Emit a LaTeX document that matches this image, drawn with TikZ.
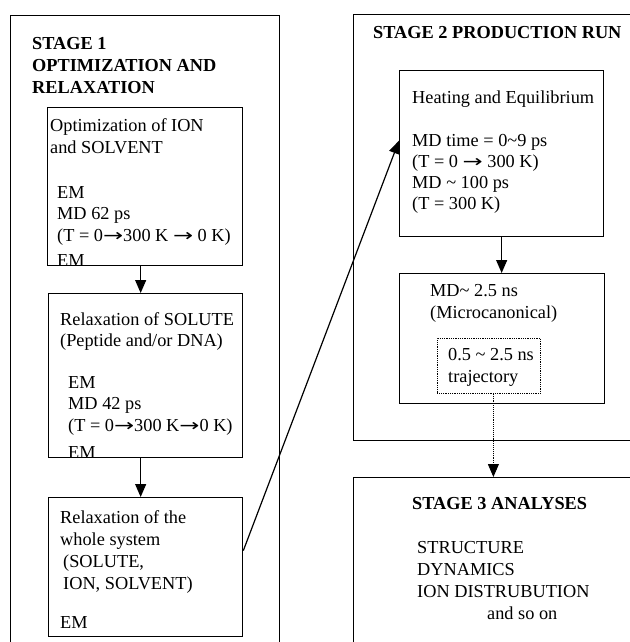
\documentclass[tikz,border=0pt]{standalone}
\usepackage{fontspec}
\usepackage{graphicx}
\setmainfont{Liberation Serif}
\newfontfamily\arrowfont{DejaVu Sans}
\newcommand\rarr{\scalebox{1.6}[1.15]{\arrowfont\fontsize{15}{22}\selectfont →}}
\usetikzlibrary{arrows.meta,calc}
\tikzset{
  box/.style={draw, line width=1.3pt, rectangle, inner sep=0pt, anchor=north west},
  dotbox/.style={draw, line width=0.8pt, densely dotted, rectangle, inner sep=0pt, anchor=north west},
  txt/.style={inner sep=0pt, anchor=base west, font=\fontsize{18.3}{22}\selectfont},
  ttl/.style={txt, font=\fontsize{18.3}{22}\selectfont\bfseries},
  arr/.style={line width=1.2pt, -{Triangle[width=11pt,length=13pt]}},
  dotarr/.style={line width=0.9pt, densely dotted, -{Triangle[width=11pt,length=13pt]}},
}
\begin{document}
\begin{tikzpicture}[x=1pt,y=-1pt]
\useasboundingbox (0,0) rectangle (629,642);
% stage frames
\node[box, minimum width=269pt, minimum height=660pt] (s1) at (10,15) {};
\node[box, minimum width=300pt, minimum height=426pt] (s2) at (353,14) {};
\node[box, minimum width=300pt, minimum height=200pt] (s3) at (353,477) {};
% stage 1
\node[ttl] (s1t1) at (32,49) {STAGE 1};
\node[ttl] (s1t2) at (32,71) {OPTIMIZATION AND};
\node[ttl] (s1t3) at (32,93) {RELAXATION};
\node[box, minimum width=195pt, minimum height=158pt] (b1) at (47,107) {};
\begin{scope}
\clip (47,107) rectangle (242,265);
\node[txt] (b1a) at (50,131) {Optimization of ION};
\node[txt] (b1b) at (50,153) {and SOLVENT};
\node[txt] (b1c) at (57,198) {EM};
\node[txt] (b1d) at (57,219.5) {MD 62 ps};
\node[txt] (b1e) at (57,241) {(T = 0\rarr300 K \rarr\ 0 K)};
\node[txt] (b1f) at (57,266) {EM};
\end{scope}
\node[box, minimum width=194pt, minimum height=164pt] (b2) at (48,293) {};
\begin{scope}
\clip (48,293) rectangle (242,457);
\node[txt] (b2a) at (60,325) {Relaxation of SOLUTE};
\node[txt] (b2b) at (60,346.5) {(Peptide and/or DNA)};
\node[txt] (b2c) at (68,388) {EM};
\node[txt] (b2d) at (68,409.5) {MD 42 ps};
\node[txt] (b2e) at (68,431) {(T = 0\rarr300 K\rarr0 K)};
\node[txt] (b2f) at (68,458) {EM};
\end{scope}
\node[box, minimum width=194pt, minimum height=139pt] (b3) at (48,497) {};
\node[txt] (b3a) at (60,523) {Relaxation of the};
\node[txt] (b3b) at (60,545) {whole system};
\node[txt] (b3c) at (63,567) {(SOLUTE,};
\node[txt] (b3d) at (63,589) {ION, SOLVENT)};
\node[txt] (b3e) at (60,628) {EM};
% stage 2
\node[ttl] (s2t) at (373,39) {STAGE 2 PRODUCTION RUN};
\node[box, minimum width=204pt, minimum height=166pt] (h1) at (399,70) {};
\node[txt] (h1a) at (412,103) {Heating and Equilibrium};
\node[txt] (h1b) at (412,146) {MD time = 0\textasciitilde9 ps};
\node[txt] (h1c) at (412,167) {(T = 0 \rarr\ 300 K)};
\node[txt] (h1d) at (412,188) {MD \textasciitilde{} 100 ps};
\node[txt] (h1e) at (412,209) {(T = 300 K)};
\node[box, minimum width=205pt, minimum height=130pt] (m1) at (399,273) {};
\node[txt] (m1a) at (430,296) {MD\textasciitilde{} 2.5 ns};
\node[txt] (m1b) at (430,318) {(Microcanonical)};
\node[dotbox, minimum width=103pt, minimum height=55pt] (d1) at (437,338) {};
\node[txt] (d1a) at (448,360) {0.5 \textasciitilde{} 2.5 ns};
\node[txt] (d1b) at (448,382) {trajectory};
% stage 3
\node[ttl] (s3t) at (412,509) {STAGE 3 ANALYSES};
\node[txt] (s3a) at (417,553) {STRUCTURE};
\node[txt] (s3b) at (417,575) {DYNAMICS};
\node[txt] (s3c) at (417,597) {ION DISTRUBUTION};
\node[txt] (s3d) at (487,619) {and so on};
% connectors
\draw[arr] ([xshift=-4.5pt]b1.south) -- ([xshift=-4.5pt]b1.south |- b2.north);
\draw[arr] ([xshift=-5pt]b2.south) -- ([xshift=-5pt]b2.south |- b3.north);
\draw[arr] ([yshift=16.5pt]b3.east) -- ([yshift=13pt]h1.west);
\draw[arr] (h1.south) -- (h1.south |- m1.north);
\draw[dotarr] ([xshift=4.5pt]d1.south) -- ([xshift=4.5pt]d1.south |- s3.north);
\end{tikzpicture}
\end{document}
